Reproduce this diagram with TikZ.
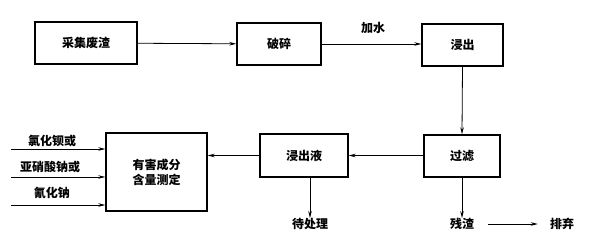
\documentclass[tikz,border=0pt]{standalone}
\usepackage{fontspec}
\setmainfont{Noto Sans CJK SC}
\usetikzlibrary{arrows.meta}
\begin{document}
\begin{tikzpicture}[x=1pt,y=-1pt,
  box/.style={draw,line width=1.4pt,inner sep=0pt},
  lbl/.style={inner sep=0pt},
  arr/.style={line width=0.8pt,-{Stealth[length=7pt,width=3.5pt]}}]
\useasboundingbox (0,0) rectangle (600,238);
\tikzset{every node/.append style={font=\fontsize{12}{15}\selectfont\bfseries}}
\node[box,minimum width=102pt,minimum height=42pt] (a) at (86,43) {采集废渣};
\node[box,minimum width=84pt,minimum height=42pt] (b) at (279,44) {破碎};
\node[box,minimum width=81pt,minimum height=42pt] (c) at (462.5,45) {浸出};
\node[box,minimum width=76pt,minimum height=42pt] (d) at (462,156) {过滤};
\node[box,minimum width=88pt,minimum height=43pt] (e) at (304,155.5) {浸出液};
\node[box,minimum width=101pt,minimum height=78pt,align=center] (f) at (156.5,172) {有害成分\\含量测定};
\node[lbl] (w) at (373,28) {加水};
\node[lbl] (g) at (310,224) {待处理};
\node[lbl] (h) at (462,224) {残渣};
\node[lbl] (k) at (562,224) {排弃};
\node[lbl] (l1) at (52,141) {氯化钡或};
\node[lbl] (l2) at (50,167) {亚硝酸钠或};
\node[lbl] (l3) at (52,193) {氰化钠};
\coordinate (s1) at (11,149);
\coordinate (s2) at (11,177);
\coordinate (s3) at (11,205);
\draw[arr] (a) -- (b);
\draw[arr] (b.east) -- (c.west|-b.east);
\draw[arr] (c.south) -- (d.north);
\draw[arr] (d.west|-e.east) -- (e.east);
\draw[arr] (e.west) -- (f.east|-e.west);
\draw[arr] (e.south-|g) -- (g.north);
\draw[arr] (d.south) -- (h.north);
\draw[arr] ([xshift=14pt]h.east) -- ([xshift=-12pt]k.west);
\draw[arr] (s1) -- (f.west|-s1);
\draw[arr] (s2) -- (f.west|-s2);
\draw[arr] (s3) -- (f.west|-s3);
\end{tikzpicture}
\end{document}
